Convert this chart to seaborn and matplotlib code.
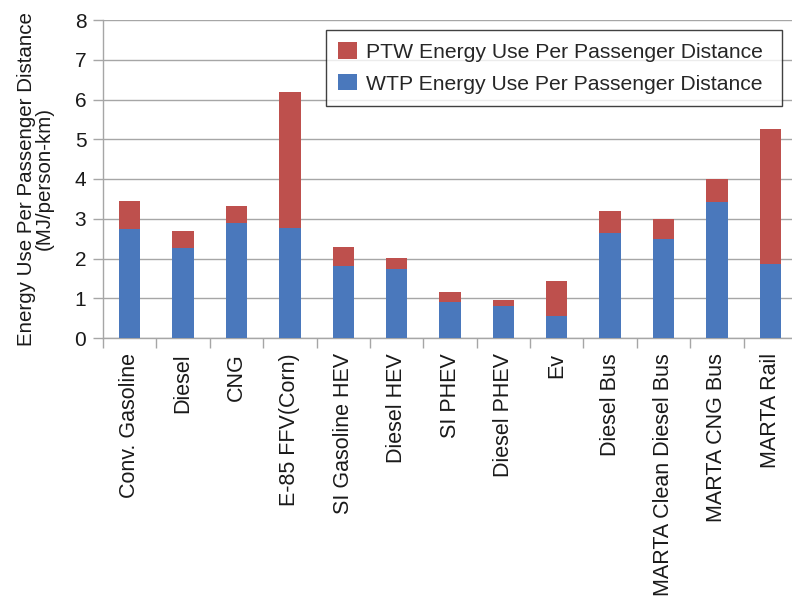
import matplotlib
matplotlib.use("Agg")
import matplotlib.pyplot as plt
import seaborn as sns
import pandas as pd
import numpy as np
from matplotlib.patches import Patch
from matplotlib.ticker import FixedLocator

categories = [
    "Conv. Gasoline", "Diesel", "CNG", "E-85 FFV(Corn)", "SI Gasoline HEV",
    "Diesel HEV", "SI PHEV", "Diesel PHEV", "Ev", "Diesel Bus",
    "MARTA Clean Diesel Bus", "MARTA CNG Bus", "MARTA Rail",
]
wtp = [2.75, 2.26, 2.90, 2.76, 1.81, 1.73, 0.91, 0.80, 0.56, 2.65, 2.49, 3.43, 1.87]
ptw = [0.69, 0.44, 0.42, 3.44, 0.47, 0.28, 0.24, 0.15, 0.88, 0.54, 0.50, 0.57, 3.38]
yticks = [0, 1, 2, 3, 4, 5, 6, 7, 8]

RED = "#BE504D"
BLUE = "#4A78BC"
GRID = "#A6A6A6"
TEXT = "#1A1A1A"

sns.set_theme(style="white")
plt.rcParams["font.family"] = ["Liberation Sans", "DejaVu Sans"]

df = pd.DataFrame({"category": categories, "wtp": wtp, "ptw": ptw})
df["total"] = df["wtp"] + df["ptw"]

fig = plt.figure(figsize=(7.92, 6.03), dpi=100)
ax = fig.add_axes([103 / 792, 1 - 338 / 603, (797 - 103) / 792, (338 - 20) / 603])

# stacked bars: total (PTW on top) drawn first, WTP drawn over it
sns.barplot(data=df, x="category", y="total", order=categories, color=RED,
            saturation=1, width=0.4, ax=ax, zorder=3, linewidth=0)
sns.barplot(data=df, x="category", y="wtp", order=categories, color=BLUE,
            saturation=1, width=0.4, ax=ax, zorder=3, linewidth=0)

ax.set_xlim(-0.5, len(categories) - 0.5)
ax.set_ylim(0, 8)
ax.set_yticks(yticks)
ax.set_yticklabels([str(t) for t in yticks], fontsize=15, color=TEXT)
ax.yaxis.grid(True, color=GRID, linewidth=1.0, zorder=0)
ax.set_axisbelow(True)

ax.set_xticks(range(len(categories)))
ax.set_xticklabels(categories, rotation=90, fontsize=15.5, color=TEXT,
                   va="top", ha="center")
ax.xaxis.set_minor_locator(FixedLocator(np.arange(-0.5, len(categories), 1.0)))
ax.tick_params(axis="x", which="major", length=0, pad=11)
ax.tick_params(axis="x", which="minor", length=7, width=1, color=GRID, bottom=True)
ax.tick_params(axis="y", which="major", length=7, width=1, color=GRID, left=True, pad=5)

for side in ("top", "right"):
    ax.spines[side].set_visible(False)
for side in ("left", "bottom"):
    ax.spines[side].set_color(GRID)
    ax.spines[side].set_linewidth(1.0)

ax.set_xlabel("")
ax.set_ylabel("Energy Use Per Passenger Distance\n(MJ/person-km)",
              fontsize=14.8, color=TEXT, linespacing=0.92, labelpad=15)

handles = [Patch(facecolor=RED, edgecolor="none"), Patch(facecolor=BLUE, edgecolor="none")]
leg_x0 = (326 - 103) / 694
leg_w = (782 - 326) / 694
leg_top = (338 - 30) / 318
leg = ax.legend(handles, ["PTW Energy Use Per Passenger Distance",
                          "WTP Energy Use Per Passenger Distance"],
                loc="upper left", bbox_to_anchor=(leg_x0, leg_top - 0.3, leg_w, 0.3),
                mode="expand", fontsize=15.2, frameon=True, fancybox=False,
                borderpad=0.59, handlelength=0.9, handleheight=0.8,
                handletextpad=0.4, labelspacing=0.59, borderaxespad=0)
leg.get_frame().set_edgecolor("#111111")
leg.get_frame().set_linewidth(1.0)

fig.savefig("out.png", dpi=100)
